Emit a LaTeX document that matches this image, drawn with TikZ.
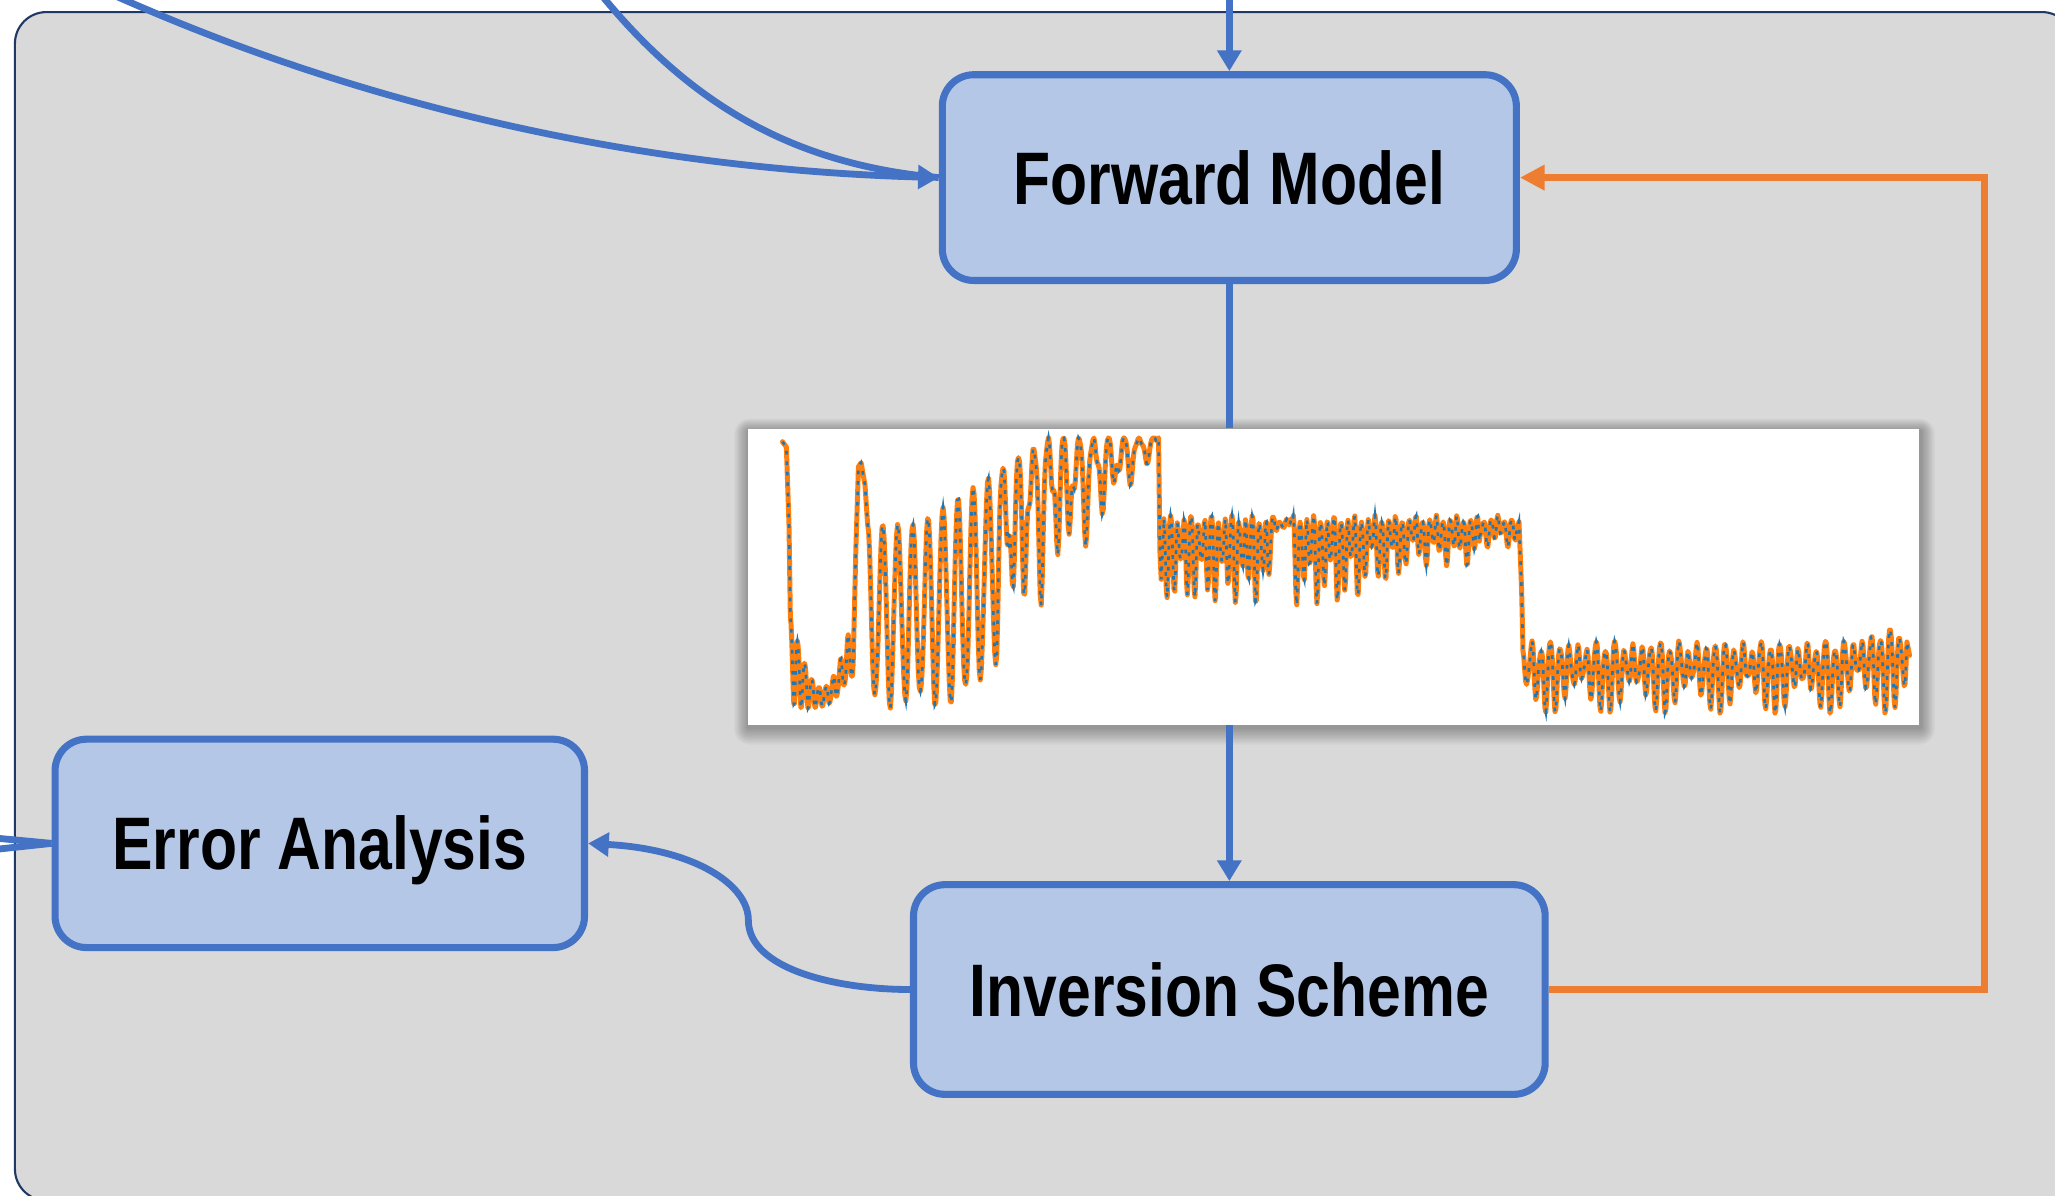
\documentclass[tikz,border=0pt]{standalone}
\usepackage{fontspec}
\newfontfamily\labelfont{Liberation Sans}[FakeStretch=0.815]
\usetikzlibrary{arrows.meta,calc}

\definecolor{panelgrey}{HTML}{D9D9D9}
\definecolor{panelrim}{HTML}{1F3864}
\definecolor{boxfill}{HTML}{B4C7E7}
\definecolor{boxrim}{HTML}{4472C4}
\definecolor{flowblue}{HTML}{4472C4}
\definecolor{loopcol}{HTML}{ED7D31}
\definecolor{specorange}{HTML}{FF7F0E}
\definecolor{specblue}{HTML}{1F77B4}

\tikzset{
  stage/.style={draw=boxrim, fill=boxfill, line width=2.7pt, rounded corners=12pt,
    font={\labelfont\bfseries\fontsize{28.4pt}{32pt}\selectfont},
    text height=20.3pt, text depth=0pt, inner sep=0pt},
  flowline/.style={draw=flowblue, line width=2.6pt},
  flow/.style={flowline, -{Triangle[length=7.9pt,width=8.9pt]}},
  loopline/.style={draw=loopcol, line width=2.7pt, line join=miter,
    -{Triangle[length=9.4pt,width=9.2pt]}},
  specbase/.style={draw=specorange, line width=1.9pt, line join=round, line cap=round},
  specdots/.style={draw=specblue, line width=1.0pt, dash pattern=on 1.4pt off 2.6pt},
}

% simulated radiance spectrum (x in picture units, y downwards)
\newcommand\specpath{
  (597,337) -- (600,341) -- (602,400) -- (603,468)
  -- plot[variable=\t, domain=603:651, samples=90] (\t,{yB(\t)})
  -- (653,420) -- (655,356) -- (657,353) -- (660,370)
  -- plot[variable=\t, domain=662:882, samples=280] (\t,{yC(\t)})
  -- (884,334) -- (885,420) -- (886,442) -- (888,400)
  -- plot[variable=\t, domain=888:1157, samples=420] (\t,{yD(\t)})
  -- (1159,398) -- (1161,450) -- (1162,493)
  -- plot[variable=\t, domain=1162:1455, samples=420] (\t,{yE(\t)})
  -- (1457,500)
}

\begin{document}
\begin{tikzpicture}[x=0.5pt, y=-0.5pt,
  declare function={
    cyc(\u,\p)=0.5-0.5*cos(360*mod(\u,\p)/\p);
    topB(\t)=470+55*sin(180*(\t-603)/48);
    yB(\t)=topB(\t)+(541-topB(\t))*cyc(\t-603,5.5)*(0.8+0.2*sin(71*(\t-600)));
    topC(\t)=400-66*min(1,max(0,(\t-700)/100));
    botC(\t)=541-185*max(0,(\t-735)/140);
    depC(\t)=\t<760 ? 0.95+0.05*sin(53*(\t-650)) : 0.7+0.3*sin(53*(\t-650));
    yC(\t)=topC(\t)+(botC(\t)-topC(\t))*cyc(\t-662,11.5)*depC(\t);
    topD(\t)=396+3*sin(23*(\t-880));
    depD(\t)=462-57*(greater(\t,972)-greater(\t,986))-15*greater(\t,1040)-15*greater(\t,1072)-14*greater(\t,1129);
    yD(\t)=topD(\t)+(depD(\t)-topD(\t))*cyc(\t-888,5.2)*(0.72+0.28*sin(47*(\t-880)));
    topE(\t)=493-12*max(0,(\t-1400)/55)+4*sin(29*(\t-1160));
    yE(\t)=topE(\t)+(545-topE(\t))*cyc(\t-1162,7)*(0.72+0.28*sin(43*(\t-1160)));
  }]

\useasboundingbox (0,0) rectangle (1568,912);
\fill[white] (0,0) rectangle (1568,912);
\clip (0,0) rectangle (1568,912);

% grey panel
\draw[fill=panelgrey, draw=panelrim, line width=0.8pt, rounded corners=12pt]
  (11.4,9.2) rectangle (1582,916);

% soft shadow under the spectrum plot
\foreach \k in {1,...,12}
  \fill[black, opacity=0.028, rounded corners={\k*0.5pt}]
    ({571-\k*0.9},{329-\k*0.8}) rectangle ({1465.5+\k*0.9},{555+\k*1.1});

% spectrum panel
\node[fill=white, inner sep=0pt, minimum width=446.75pt, minimum height=113pt] (spec) at (1017.75,440) {};
\draw[specbase] \specpath;
\draw[specdots] \specpath;

% processing stages
\node[stage, minimum width=219pt, minimum height=78.5pt] (fwd) at (938,135.5) {Forward Model};
\node[stage, minimum width=202pt, minimum height=79.5pt] (err) at (244,643.5) {Error Analysis};
\node[stage, minimum width=241pt, minimum height=80pt] (inv) at (938,755) {Inversion Scheme};

% incoming inputs
\coordinate (feed) at (938,-10);
\coordinate (srcA) at (60,-16);
\coordinate (srcB) at (450,-15);
\draw[flow] (feed) -- (fwd.north);
\draw[flowline] (srcB) .. controls (520,75) and (600,125) .. (fwd.west);
\draw[flow] (srcA) .. controls (290,92) and (520,130) .. (fwd.west);

% forward model -> spectrum -> inversion
\draw[flowline] (fwd.south) -- (fwd.south |- spec.north);
\draw[flow] (inv.north |- spec.south) -- (inv.north);

% iteration loop back to the forward model
\coordinate (loopcorner) at (1514.5,445);
\draw[loopline] (inv.east) -| (loopcorner) |- (fwd.east);

% inversion -> error analysis
\draw[flow] (inv.west) .. controls (640,755) and (571,740) .. (571,702)
  .. controls (571,675) and (530,648) .. (err.east);

% outputs of the error analysis
\coordinate (outA) at (-40,636);
\coordinate (outB) at (-40,652);
\draw[flowline] (err.west) -- (outA);
\draw[flowline] (err.west) -- (outB);

\end{tikzpicture}
\end{document}
